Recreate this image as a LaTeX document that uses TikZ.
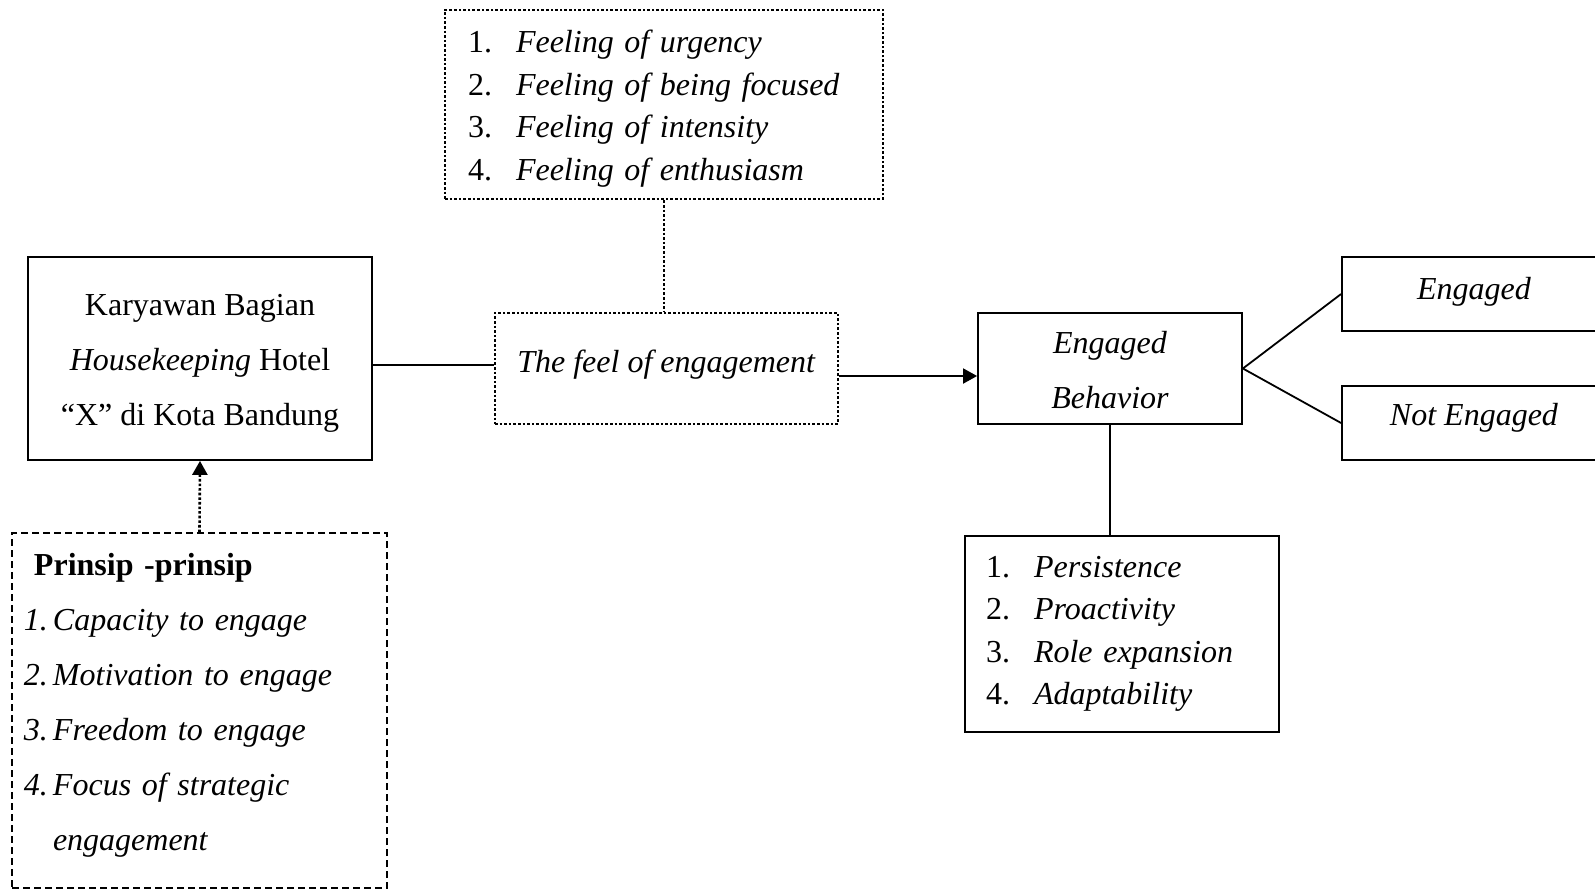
\documentclass[tikz,border=0pt]{standalone}
\usepackage{fontspec}
\setmainfont{Liberation Serif}
\usetikzlibrary{arrows.meta}

\newcommand{\numitem}[2]{\makebox[24pt][l]{#1}\textit{#2}}
\newcommand{\prinitem}[2]{\makebox[14.5pt][l]{\textit{#1}}\textit{#2}}
\newcommand{\nudge}[2]{\raisebox{#1}[\height][\depth]{#2}}

\begin{document}
\begin{tikzpicture}[x=0.5pt, y=-0.5pt,
    box/.style={draw, line width=0.9pt, inner sep=0pt, align=center,
        font=\fontsize{16}{27.5}\selectfont},
    listbox/.style={box, align=left, font=\fontsize{16}{21.2}\selectfont},
    dotted box/.style={line width=1.3pt, dash pattern=on 1.3pt off 1pt},
    dashed box/.style={dash pattern=on 3.5pt off 2pt},
    link/.style={line width=0.9pt},
    dotlink/.style={line width=1.3pt, dash pattern=on 1.3pt off 1pt},
    tip/.style={-{Triangle[width=7.5pt,length=7pt]}}]

    % Page frame
    \clip (0,0) rectangle (1595,890);

    % Feelings list on top
    \node[listbox, dotted box, text width=196pt, inner xsep=11.5pt, minimum height=94.5pt] (feelings) at (664,104.5) {%
        \nudge{-1.8pt}{\begin{tabular}{@{}l@{}}
        \numitem{1.}{Feeling of urgency}\\
        \numitem{2.}{Feeling of being focused}\\
        \numitem{3.}{Feeling of intensity}\\
        \numitem{4.}{Feeling of enthusiasm}
        \end{tabular}}};

    % Main row
    \node[box, minimum width=172pt, minimum height=101.5pt] (karyawan) at (200,358.5) {%
        \nudge{-0.7pt}{\begin{tabular}{@{}c@{}}
        Karyawan Bagian\\ \textit{Housekeeping} Hotel\\ “X” di Kota Bandung
        \end{tabular}}};
    \node[box, dotted box, minimum width=171.5pt, minimum height=55.5pt] (feel) at (666.5,368.5) {\nudge{2pt}{\textit{The feel of engagement}}};
    \node[box, minimum width=132pt, minimum height=55.5pt] (behavior) at (1110,368.5) {%
        \nudge{-0.5pt}{\begin{tabular}{@{}c@{}}\textit{Engaged}\\ \textit{Behavior}\end{tabular}}};

    % Outcomes
    \node[box, minimum width=132pt, minimum height=37pt] (engaged) at (1474,294) {\nudge{1.2pt}{\textit{Engaged}}};
    \node[box, minimum width=132pt, minimum height=37pt] (notengaged) at (1474,423) {\nudge{2.4pt}{\textit{Not Engaged}}};

    % Behaviour list
    \node[listbox, text width=136pt, inner xsep=10.5pt, minimum height=98pt] (behlist) at (1122,634) {%
        \numitem{1.}{Persistence}\\
        \numitem{2.}{Proactivity}\\
        \numitem{3.}{Role expansion}\\
        \numitem{4.}{Adaptability}};

    % Principles
    \node[box, dashed box, align=left, text width=175.5pt, inner xsep=6pt, minimum height=177.5pt] (prinsip) at (199.5,710.5) {%
        \nudge{4.4pt}{\begin{tabular}{@{}l@{}}
        \hspace*{5pt}\textbf{Prinsip -prinsip}\\
        \prinitem{1.}{Capacity to engage}\\
        \prinitem{2.}{Motivation to engage}\\
        \prinitem{3.}{Freedom to engage}\\
        \prinitem{4.}{Focus of strategic}\\
        \hspace*{14.5pt}\textit{engagement}
        \end{tabular}}};

    % Connectors
    \draw[link] ([yshift=-3.25pt]karyawan.east) -- ([yshift=-3.25pt]karyawan.east -| feel.west);
    \draw[dotlink] (feelings.south) -- (feelings.south |- feel.north);
    \draw[link, tip] ([yshift=-3.75pt]feel.east) -- ([yshift=-3.75pt]feel.east -| behavior.west);
    \draw[link] (behavior.east) -- (engaged.west);
    \draw[link] (behavior.east) -- (notengaged.west);
    \draw[link] (behavior.south) -- (behavior.south |- behlist.north);
    \draw[dotlink, tip] (prinsip.north) -- (karyawan.south);

\end{tikzpicture}
\end{document}
